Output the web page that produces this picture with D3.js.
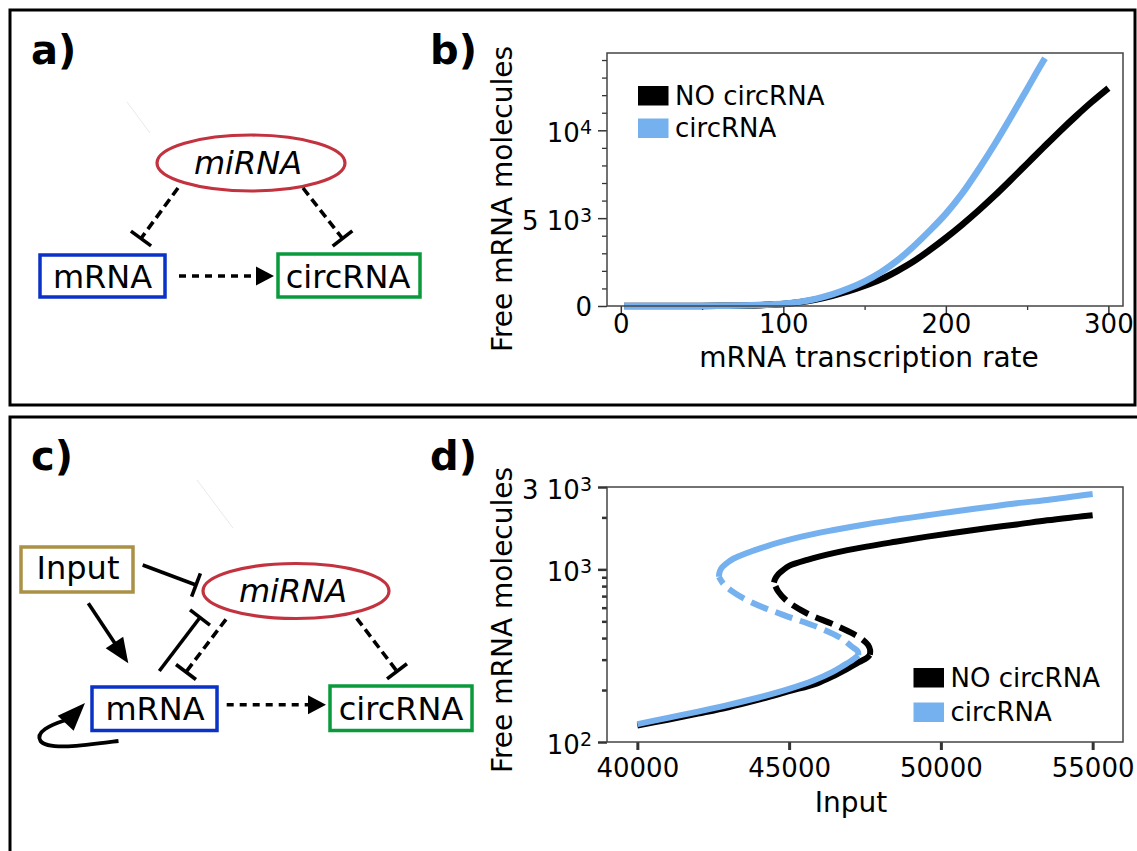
<!DOCTYPE html>
<html>
<head>
<meta charset="utf-8">
<script src="https://cdn.jsdelivr.net/npm/d3@7"></script>
<style>
  body { margin: 0; background: #fff; }
  svg { font-family: "DejaVu Sans", sans-serif; }
</style>
</head>
<body>
<script>
// ---- panel b: free mRNA vs transcription rate ----
var rateNo   = [2, 20, 40, 60, 80, 90, 100, 110, 120, 130, 140, 150, 160, 170, 180, 190, 200, 210, 220, 230, 240, 250, 260, 270, 280, 290, 300];
var freeNo   = [0, 0, 3, 10, 35, 70, 115, 215, 370, 580, 840, 1150, 1520, 1990, 2530, 3180, 3880, 4630, 5430, 6280, 7180, 8100, 9020, 9930, 10800, 11630, 12400];
var rateCirc = [2, 20, 40, 60, 80, 90, 100, 110, 120, 130, 140, 150, 160, 170, 180, 190, 200, 210, 220, 230, 240, 250, 260, 261];
var freeCirc = [0, 0, 3, 10, 38, 75, 125, 235, 410, 660, 990, 1400, 1920, 2580, 3380, 4280, 5250, 6400, 7750, 9200, 10750, 12350, 13950, 14100];
var xTicksB = [0, 100, 200, 300];
var xMinorB = [50, 150, 250];
var yTicksB = [0, 5000, 10000];
var yTickTextB = [["0", ""], ["5 10", "3"], ["10", "4"]];
var yMinorB = [1000, 2000, 3000, 4000, 6000, 7000, 8000, 9000, 11000, 12000, 13000, 14000];

// ---- panel d: bistable response to Input (stable: solid, unstable: dashed) ----
var inNoLow   = [40000, 41000, 42000, 43000, 44000, 45000, 45900, 46500, 46900, 47300, 47550, 47660];
var mNoLow    = [124.5, 134.5, 146, 159, 176, 197, 218, 243, 264, 290, 306, 320];
var inNoMid   = [47660, 47670, 47600, 47420, 47150, 46474, 45596, 44937, 44640, 44500];
var mNoMid    = [320, 340, 365, 392, 420, 479, 555, 654, 745, 840];
var inNoHigh  = [44500, 44540, 44650, 44800, 45000, 45600, 46500, 47500, 48500, 49500, 50500, 51500, 52500, 53500, 54500, 55000];
var mNoHigh   = [840, 880, 940, 990, 1047, 1135, 1245, 1349, 1445, 1542, 1637, 1730, 1820, 1923, 2014, 2060];

var inCLow    = [40000, 41000, 42000, 43000, 44000, 45000, 45800, 46400, 46800, 47100, 47280];
var mCLow     = [127, 138, 150, 164, 181, 203, 227, 253, 278, 300, 318];
var inCMid    = [47280, 47260, 47081, 46695, 45927, 44825, 43727, 43067, 42826, 42690];
var mCMid     = [318, 335, 355, 401, 464, 543, 648, 758, 828, 905];
var inCHigh   = [42690, 42700, 42760, 42900, 43176, 44275, 45375, 46474, 47500, 48500, 49500, 50500, 51500, 52500, 53500, 54500, 55000];
var mCHigh    = [905, 950, 1010, 1070, 1156, 1365, 1542, 1690, 1820, 1936, 2051, 2173, 2291, 2415, 2523, 2661, 2729];

var xTicksD = [40000, 45000, 50000, 55000];
var yTicksD = [100, 1000, 3000];
var yTickTextD = [["10", "2"], ["10", "3"], ["3 10", "3"]];
var yMinorD = [200, 300, 400, 500, 600, 700, 800, 900, 2000];

var legendNames = ["NO circRNA", "circRNA"];
var black = "#000", blue = "#75b1ee";

var svg = d3.select("body").append("svg")
    .attr("width", 1137)
    .attr("height", 851);

// panel frames
svg.append("rect").attr("x", 10).attr("y", 10).attr("width", 1125).attr("height", 395)
    .attr("fill", "none").attr("stroke", "#000").attr("stroke-width", 3);
svg.append("rect").attr("x", 10).attr("y", 417).attr("width", 1160).attr("height", 480)
    .attr("fill", "none").attr("stroke", "#000").attr("stroke-width", 3);

// panel letters
[["a)", 31, 63.5], ["b)", 430, 63.5], ["c)", 31, 470], ["d)", 430, 470]].forEach(function(p){
    svg.append("text").attr("x", p[1]).attr("y", p[2])
        .attr("font-size", 40).attr("font-weight", "bold").text(p[0]);
});

// ---------- diagram helpers ----------
function unit(p0, p1) {
    var dx = p1[0] - p0[0], dy = p1[1] - p0[1], L = Math.hypot(dx, dy);
    return [dx / L, dy / L];
}
function inhibit(g, p0, p1, dashed) {
    var u = unit(p0, p1), h = 12.5;
    g.append("line").attr("x1", p0[0]).attr("y1", p0[1]).attr("x2", p1[0]).attr("y2", p1[1])
        .attr("stroke", "#000").attr("stroke-width", 3.6)
        .attr("stroke-dasharray", dashed ? "9,5" : null);
    g.append("line")
        .attr("x1", p1[0] - u[1] * h).attr("y1", p1[1] + u[0] * h)
        .attr("x2", p1[0] + u[1] * h).attr("y2", p1[1] - u[0] * h)
        .attr("stroke", "#000").attr("stroke-width", 3.6);
}
function head(g, tip, u, len, half) {
    var bx = tip[0] - u[0] * len, by = tip[1] - u[1] * len;
    g.append("path")
        .attr("d", "M" + tip[0] + "," + tip[1] +
            "L" + (bx - u[1] * half) + "," + (by + u[0] * half) +
            "L" + (bx + u[1] * half) + "," + (by - u[0] * half) + "Z")
        .attr("fill", "#000");
}
function arrow(g, p0, p1, dashed, len, half) {
    var u = unit(p0, p1);
    g.append("line").attr("x1", p0[0]).attr("y1", p0[1])
        .attr("x2", p1[0] - u[0] * len * 0.8).attr("y2", p1[1] - u[1] * len * 0.8)
        .attr("stroke", "#000").attr("stroke-width", 3.6)
        .attr("stroke-dasharray", dashed ? "7,6" : null);
    head(g, p1, u, len, half);
}
function box(g, x, y, w, h, color, label, tx, ty) {
    g.append("rect").attr("x", x).attr("y", y).attr("width", w).attr("height", h)
        .attr("fill", "#fff").attr("stroke", color).attr("stroke-width", 3.5);
    g.append("text").attr("x", tx).attr("y", ty).attr("text-anchor", "middle")
        .attr("font-size", 32).text(label);
}
function mirna(g, cx, cy, rx, ry, ty) {
    g.append("ellipse").attr("cx", cx).attr("cy", cy).attr("rx", rx).attr("ry", ry)
        .attr("fill", "#fff").attr("stroke", "#c2323f").attr("stroke-width", 3.2);
    g.append("text").attr("x", cx - 3).attr("y", ty).attr("text-anchor", "middle")
        .attr("font-size", 32).attr("font-style", "italic").text("miRNA");
}

// ---------- diagram a ----------
var ga = svg.append("g");
ga.append("line").attr("x1", 127).attr("y1", 102).attr("x2", 150).attr("y2", 133)
    .attr("stroke", "#e6ece6").attr("stroke-width", 1);
mirna(ga, 251, 163, 94, 28, 174);
box(ga, 40, 255, 125, 42, "#0b32c8", "mRNA", 102.5, 288);
box(ga, 278, 254, 142, 43, "#0a9a3c", "circRNA", 348, 288);
inhibit(ga, [178, 188], [141, 238.5], true);
inhibit(ga, [303, 188], [342.5, 238.5], true);
arrow(ga, [179, 276], [274, 276], true, 18, 9.5);

// ---------- diagram c ----------
var gc = svg.append("g");
gc.append("line").attr("x1", 197).attr("y1", 480).attr("x2", 233).attr("y2", 528)
    .attr("stroke", "#e6ece6").attr("stroke-width", 1);
box(gc, 21, 547, 112, 45, "#aa9146", "Input", 78, 579);
mirna(gc, 296, 591, 93, 27.5, 602);
box(gc, 92, 687, 125, 43.5, "#0b32c8", "mRNA", 155, 720);
box(gc, 330, 686, 142, 44.5, "#0a9a3c", "circRNA", 401, 720);
inhibit(gc, [142.7, 565], [196, 585], false);
arrow(gc, [88.3, 603.3], [128.3, 663.3], false, 25, 10.5);
inhibit(gc, [159.3, 671], [200, 617.5], false);
inhibit(gc, [226, 619.3], [186, 672], true);
inhibit(gc, [356.7, 618.3], [397, 671.3], true);
arrow(gc, [226.7, 704.7], [326, 704.7], true, 18, 9.5);
// self activation loop of mRNA
gc.append("path")
    .attr("d", "M118.5,741 C88,745 48,751 40.5,741 C35,732 50,725 66,720")
    .attr("fill", "none").attr("stroke", "#000").attr("stroke-width", 3.8);
head(gc, [85, 703], unit([63, 726], [85, 703]), 28, 11);

// ---------- chart b ----------
var xB = d3.scaleLinear().domain([-8.5, 309]).range([607, 1123]);
var yB = d3.scaleLinear().domain([0, 14400]).range([306, 53]);
var gb = svg.append("g");

function styleAxis(g, w) {
    g.select(".domain").remove();
    g.selectAll(".tick line").attr("stroke", "#333").attr("stroke-width", w);
    g.attr("font-family", "DejaVu Sans").attr("font-size", 26);
    g.selectAll(".tick text").attr("fill", "#000");
}
function sciLabels(g, texts, dyPlain, dySup) {
    g.selectAll(".tick text").each(function(d, i) {
        var t = d3.select(this), parts = texts[i];
        t.text(null).attr("dy", null).attr("y", parts[1] ? dySup : dyPlain);
        t.append("tspan").text(parts[0]);
        if (parts[1]) t.append("tspan").attr("dy", -8).attr("font-size", 19).text(parts[1]);
    });
}

gb.append("g").attr("transform", "translate(0,306)")
    .call(d3.axisBottom(xB).tickValues(xMinorB).tickSize(4).tickFormat(""))
    .call(styleAxis, 1.3);
gb.append("g").attr("transform", "translate(0,306)")
    .call(d3.axisBottom(xB).tickValues(xTicksB).tickSize(8).tickFormat(d3.format("d")))
    .call(styleAxis, 1.5)
    .call(function(g){ g.selectAll(".tick text").attr("y", 27).attr("dy", null); });
gb.append("g").attr("transform", "translate(607,0)")
    .call(d3.axisLeft(yB).tickValues(yMinorB).tickSize(5).tickFormat(""))
    .call(styleAxis, 1.3);
gb.append("g").attr("transform", "translate(607,0)")
    .call(d3.axisLeft(yB).tickValues(yTicksB).tickSize(9).tickPadding(6))
    .call(styleAxis, 1.5)
    .call(sciLabels, yTickTextB, 9.5, 11.5);

var lineB = d3.line().x(function(d){ return xB(d[0]); }).y(function(d){ return yB(d[1]); })
    .curve(d3.curveMonotoneX);
gb.append("path").datum(d3.zip(rateNo, freeNo)).attr("d", lineB)
    .attr("fill", "none").attr("stroke", black).attr("stroke-width", 6.5);
gb.append("path").datum(d3.zip(rateCirc, freeCirc)).attr("d", lineB)
    .attr("fill", "none").attr("stroke", blue).attr("stroke-width", 6.5);

gb.append("rect").attr("x", 607).attr("y", 53).attr("width", 1123 - 607).attr("height", 306 - 53)
    .attr("fill", "none").attr("stroke", "#444").attr("stroke-width", 1.5);

gb.append("text").attr("transform", "translate(512,199) rotate(-90)")
    .attr("text-anchor", "middle").attr("font-size", 28).text("Free mRNA molecules");
gb.append("text").attr("x", 869).attr("y", 367)
    .attr("text-anchor", "middle").attr("font-size", 28).text("mRNA transcription rate");

function legend(g, x, y, step) {
    [black, blue].forEach(function(c, i) {
        g.append("rect").attr("x", x).attr("y", y + i * step).attr("width", 30.5).attr("height", 19.5)
            .attr("fill", c);
        g.append("text").attr("x", x + 37).attr("y", y + i * step + 18.5)
            .attr("font-size", 26).text(legendNames[i]);
    });
}
legend(gb, 638, 86, 32.5);

// ---------- chart d ----------
var xD = d3.scaleLinear().domain([39000, 56000]).range([607, 1123]);
var yD = d3.scaleLog().domain([100, 3000]).range([742, 487]);
var gd = svg.append("g");

gd.append("g").attr("transform", "translate(0,742)")
    .call(d3.axisBottom(xD).tickValues(xTicksD).tickSize(8).tickFormat(d3.format("d")))
    .call(styleAxis, 3)
    .call(function(g){ g.selectAll(".tick text").attr("y", 35).attr("dy", null); });
gd.append("g").attr("transform", "translate(607,0)")
    .call(d3.axisLeft(yD).tickValues(yMinorD).tickSize(5).tickFormat(""))
    .call(styleAxis, 2.5);
gd.append("g").attr("transform", "translate(607,0)")
    .call(d3.axisLeft(yD).tickValues(yTicksD).tickSize(9).tickPadding(6))
    .call(styleAxis, 2.5)
    .call(sciLabels, yTickTextD, 9.5, 11.5);

var lineD = d3.line().x(function(d){ return xD(d[0]); }).y(function(d){ return yD(d[1]); })
    .curve(d3.curveCatmullRom.alpha(0.5));
function branch(xs, ys, color, dashed) {
    gd.append("path").datum(d3.zip(xs, ys)).attr("d", lineD)
        .attr("fill", "none").attr("stroke", color).attr("stroke-width", 6)
        .attr("stroke-dasharray", dashed ? "18,8" : null);
}
branch(inNoLow, mNoLow, black, false);
branch(inNoMid, mNoMid, black, true);
branch(inNoHigh, mNoHigh, black, false);
branch(inCLow, mCLow, blue, false);
branch(inCMid, mCMid, blue, true);
branch(inCHigh, mCHigh, blue, false);

gd.append("rect").attr("x", 607).attr("y", 487).attr("width", 1123 - 607).attr("height", 742 - 487)
    .attr("fill", "none").attr("stroke", "#444").attr("stroke-width", 1.5);

gd.append("text").attr("transform", "translate(512,620) rotate(-90)")
    .attr("text-anchor", "middle").attr("font-size", 28).text("Free mRNA molecules");
gd.append("text").attr("x", 851).attr("y", 812)
    .attr("text-anchor", "middle").attr("font-size", 28).text("Input");

legend(gd, 913.5, 668, 34.5);
</script>
</body>
</html>
